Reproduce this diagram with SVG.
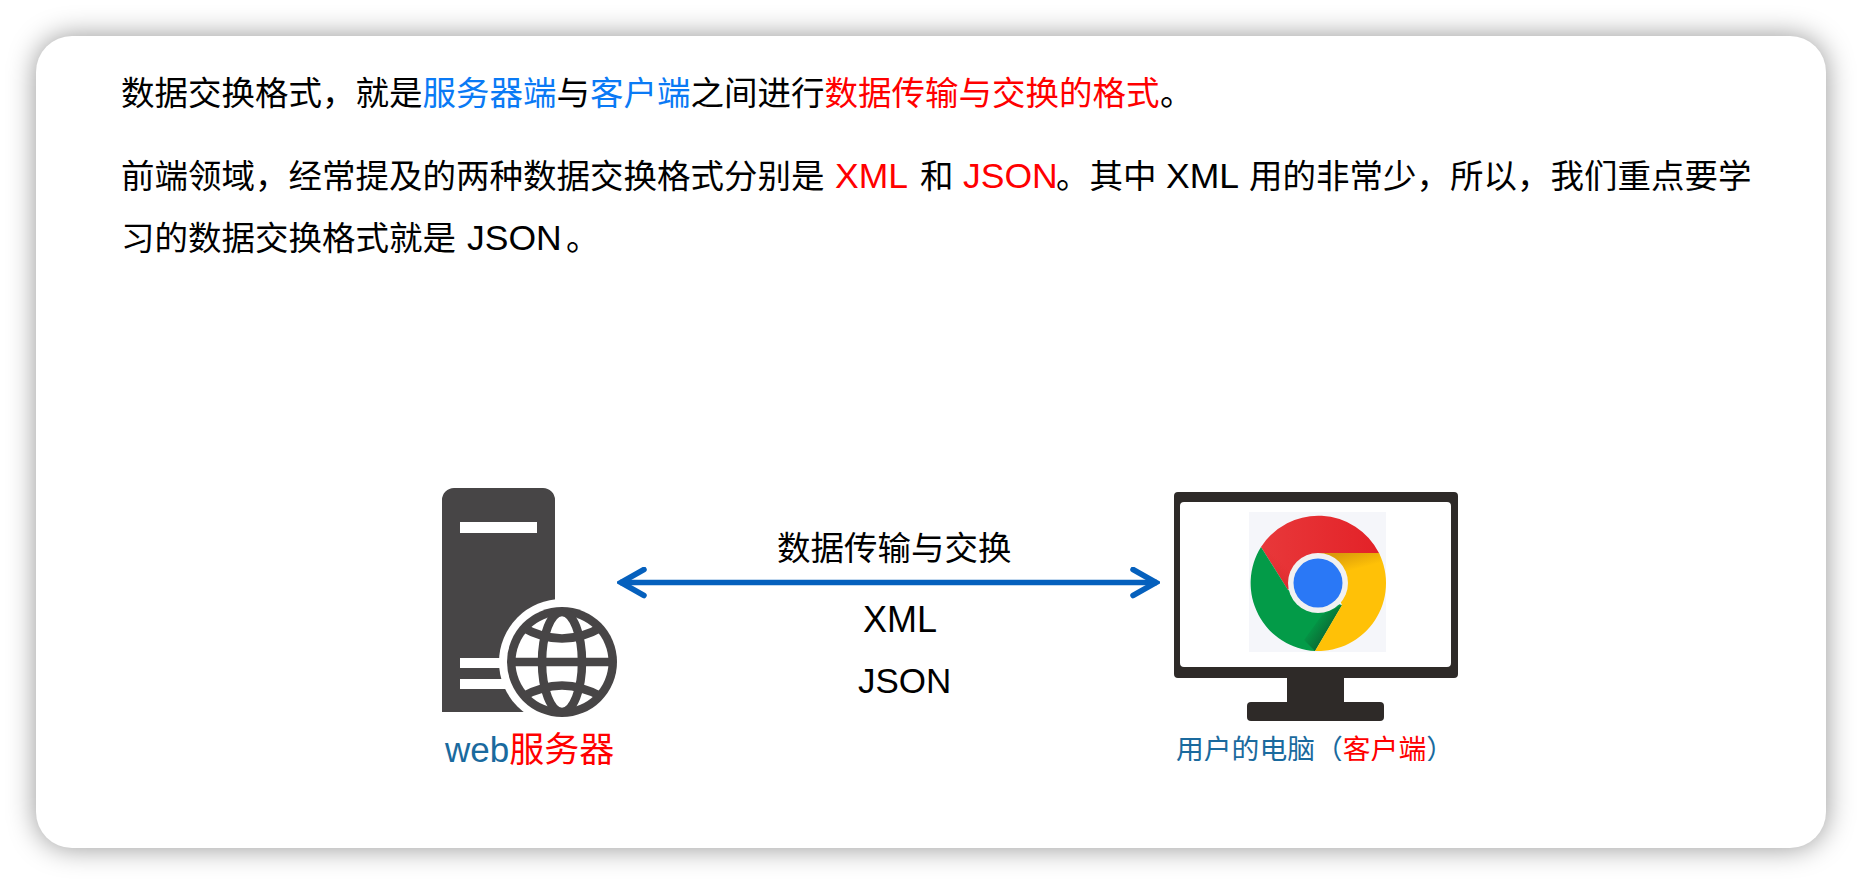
<svg xmlns="http://www.w3.org/2000/svg" width="1862" height="884" viewBox="0 0 1862 884">
<style>
text{font-family:"Liberation Sans","Noto Sans CJK SC",sans-serif;fill:#000}
.t{font-size:33.5px}
.l{font-size:35.5px}
.b{fill:#0a7af5}
.r{fill:#f00}
.lb{fill:#1a6a9e}
.srv{fill:#474546}
.mon{fill:#2e2a28}
</style>
<defs>
<filter id="sh" x="-5%" y="-10%" width="110%" height="120%"><feGaussianBlur stdDeviation="14"/></filter>
<marker id="ah" viewBox="0 0 30 32" refX="27" refY="16" markerWidth="30" markerHeight="32" markerUnits="userSpaceOnUse" orient="auto-start-reverse"><path d="M3,3 L26,16 L3,29" fill="none" stroke="#0560bd" stroke-width="5.5" stroke-linecap="round" stroke-linejoin="miter"/></marker>
<clipPath id="cl"><rect x="1170" y="730" width="300" height="31"/></clipPath>
<linearGradient id="gr" x1="0" y1="0" x2="1" y2="0"><stop offset="0" stop-color="#e8383a"/><stop offset="1" stop-color="#e32228"/></linearGradient>
<linearGradient id="shR" gradientUnits="userSpaceOnUse" x1="1262" y1="590" x2="1285" y2="565"><stop offset="0" stop-color="#a8201c"/><stop offset="1" stop-color="#e42a2d" stop-opacity="0"/></linearGradient>
<linearGradient id="shY" gradientUnits="userSpaceOnUse" x1="1340" y1="553" x2="1345" y2="572"><stop offset="0" stop-color="#d99a0a"/><stop offset="1" stop-color="#ffc107"/></linearGradient>
<linearGradient id="shG" gradientUnits="userSpaceOnUse" x1="1325" y1="640" x2="1308" y2="628"><stop offset="0" stop-color="#0a6a34"/><stop offset="1" stop-color="#039b48"/></linearGradient>
</defs>
<rect width="1862" height="884" fill="#fff"/>
<rect x="36" y="36" width="1790" height="812" rx="36" fill="#000" fill-opacity=".42" filter="url(#sh)"/>
<rect id="card" x="36" y="36" width="1790" height="812" rx="36" fill="#fff"/>

<g id="intro">
<text class="t" x="121" y="105">数据交换格式，就是<tspan class="b">服务器端</tspan>与<tspan class="b">客户端</tspan>之间进行<tspan class="r">数据传输与交换的格式</tspan></text>
<text class="t" x="1160" y="105">。</text>
<text class="t" x="121" y="188">前端领域，经常提及的两种数据交换格式分别是</text>
<text class="t l r" x="835" y="188">XML</text>
<text class="t" x="920" y="188">和</text>
<text class="t l r" x="963" y="188">JSON</text>
<text class="t" x="1056" y="188">。其中</text>
<text class="t l" x="1166" y="188">XML</text>
<text class="t" x="1249" y="188">用的非常少，所以，我们重点要学</text>
<text class="t" x="121" y="250">习的数据交换格式就是</text>
<text class="t l" x="467" y="250">JSON</text>
<text class="t" x="566" y="250">。</text>
</g>

<g id="server">
<path class="srv" d="M442,712 V500 a12,12 0 0 1 12,-12 H543 a12,12 0 0 1 12,12 V620 H580 V712 Z"/>
<circle cx="562" cy="662" r="63" fill="#fff"/>
<rect x="460" y="522" width="77" height="11" fill="#fff"/>
<rect x="460" y="658" width="45" height="10" fill="#fff"/>
<rect x="460" y="679" width="50" height="10" fill="#fff"/>
<circle class="srv" cx="562" cy="662" r="55"/>
<circle cx="562" cy="662" r="46.5" fill="#fff"/>
<g fill="none" stroke="#474546" stroke-width="8.5">
<ellipse cx="562" cy="662" rx="20" ry="50"/>
<path d="M510,662 H614"/>
<path d="M522,627 Q562,650 602,627"/>
<path d="M522,697 Q562,674 602,697"/>
</g>
</g>

<g id="client">
<path class="mon" fill-rule="evenodd" d="M1178,492 H1454 a4,4 0 0 1 4,4 V674 a4,4 0 0 1 -4,4 H1178 a4,4 0 0 1 -4,-4 V496 a4,4 0 0 1 4,-4 Z M1184,502 a4,4 0 0 0 -4,4 V663 a4,4 0 0 0 4,4 H1447 a4,4 0 0 0 4,-4 V506 a4,4 0 0 0 -4,-4 Z"/>
<rect class="mon" x="1287" y="678" width="57" height="26"/>
<rect class="mon" x="1247" y="702" width="137" height="19" rx="4"/>
<rect x="1249" y="512" width="137" height="140" fill="#f5f6fa"/>
<path d="M1261,547 A68,68 0 0 1 1379,553 H1318 L1288,590 Z" fill="url(#gr)"/>
<path d="M1261,547 L1288,590 L1300,560 Z" fill="url(#shR)"/>
<path d="M1261,547 A68,68 0 0 0 1315,651 L1342,605 L1288,590 Z" fill="#039b48"/>
<path d="M1315,651 L1342,605 L1322,615 L1304,640 Z" fill="url(#shG)"/>
<path d="M1379,553 A68,68 0 0 1 1315,651 L1342,605 L1318,553 Z" fill="#ffc107"/>
<path d="M1379,553 H1318 L1335,572 L1384,572 Z" fill="url(#shY)"/>
<circle cx="1318" cy="583" r="30" fill="#f1f1f1"/>
<circle cx="1318" cy="583" r="24.5" fill="#2a78f6"/>
</g>

<g id="connectors">
<line x1="620" y1="582.5" x2="1157" y2="582.5" stroke="#0560bd" stroke-width="5.5" marker-start="url(#ah)" marker-end="url(#ah)"/>
</g>

<g id="labels">
<text x="777" y="560" font-size="33.5">数据传输与交换</text>
<text x="863" y="632" font-size="36">XML</text>
<text x="858" y="693" font-size="35">JSON</text>
<text x="445" y="762" font-size="35" class="lb">web<tspan class="r">服务器</tspan></text>
<text x="1176" y="759" font-size="27.8" class="lb" clip-path="url(#cl)">用户的电脑（<tspan class="r">客户端</tspan>）</text>
</g>
</svg>
